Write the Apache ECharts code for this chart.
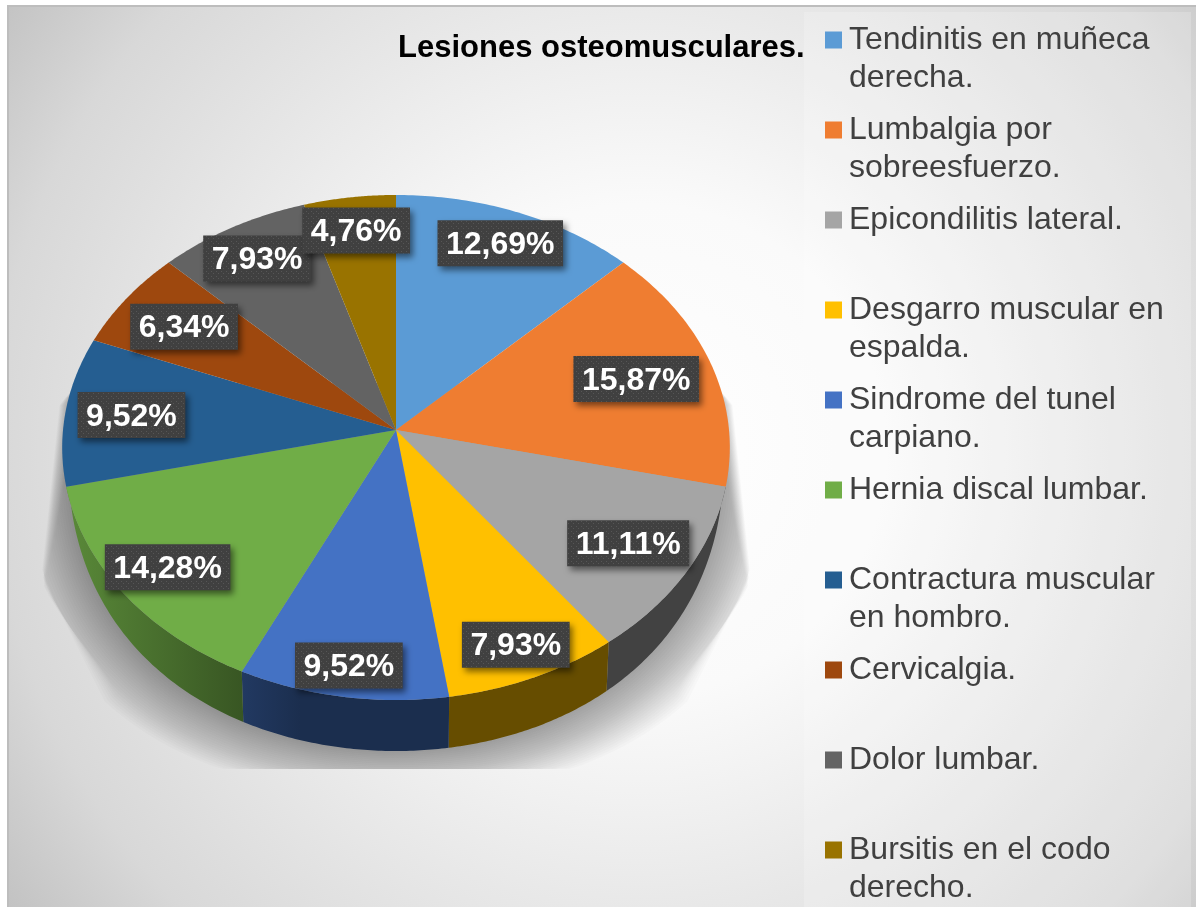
<!DOCTYPE html>
<html>
<head>
<meta charset="utf-8">
<style>html,body{margin:0;padding:0;background:#fff}#chart{width:1196px;height:907px}</style>
<script src="https://cdn.jsdelivr.net/npm/echarts@6/dist/echarts.min.js"></script>
</head>
<body>
<div id="chart"></div>
<script>
const categories = ['Tendinitis en muñeca\nderecha.','Lumbalgia por\nsobreesfuerzo.','Epicondilitis lateral.','Desgarro muscular en\nespalda.','Sindrome del tunel\ncarpiano.','Hernia discal lumbar.','Contractura muscular\nen hombro.','Cervicalgia.','Dolor lumbar.','Bursitis en el codo\nderecho.'];
const values = [12.69,15.87,11.11,7.93,9.52,14.28,9.52,6.34,7.93,4.76];
const colors = ['#5b9bd5','#ef7d31','#a5a5a5','#ffc000','#4472c4','#70ad47','#255e91','#9e480e','#636363','#997300'];
// distancia de cada etiqueta al centro, 1 = borde
const labelRadius = [.85,.76,.805,.875,.89,.845,.80,.78,.84,.85];

const total = values.reduce((a,b)=>a+b,0);
const cx = 396, cy = 430, rx = 333, ry = 251.3, persp = 0.0693, depth = 51, floorY = 769;

// circulo unidad -> pantalla con perspectiva
function project(angle,rho){
    const u = rho*Math.sin(angle), v = -rho*Math.cos(angle), d = 1-persp*v;
    return [cx+rx*u/d, cy+ry*v/d];
}
function sideDepth(angle){
    const t = (-Math.cos(angle)-0.22)/0.78;
    if(t<=0) return 0;
    return depth*Math.pow(Math.sin(Math.PI/2*Math.min(t,1)),0.5);
}
function bottomPoint(angle){
    const p = project(angle,1);
    return [cx+(p[0]-cx)*0.99, p[1]+sideDepth(angle)];
}
function startAngle(i){
    let sum = 0;
    for(let k=0;k<i;k++) sum += values[k];
    return sum/total*Math.PI*2;
}
function shade(hex,f){
    const n = parseInt(hex.slice(1),16);
    return 'rgb('+[n>>16,(n>>8)&255,n&255].map(c=>Math.round(c*f)).join(',')+')';
}

const dots = document.createElement('canvas');
dots.width = 5; dots.height = 5;
const dotCtx = dots.getContext('2d');
dotCtx.fillStyle = '#404040';
dotCtx.fillRect(0,0,5,5);
dotCtx.fillStyle = '#565656';
dotCtx.fillRect(1,1,1,1);
dotCtx.fillRect(3,3,1,1);
const measure = document.createElement('canvas').getContext('2d');
measure.font = 'bold 32px "Liberation Sans"';

function renderSlice(params,api){
    const i = params.seriesIndex-1;
    const a0 = startAngle(i), a1 = startAngle(i+1), steps = 60;
    const top = [], side = [];
    for(let s=0;s<=steps;s++){
        const a = a0+(a1-a0)*s/steps;
        top.push(project(a,1));
        if(sideDepth(a)>0) side.push(a);
    }
    const children = [];
    if(side.length>1){
        const pts = side.map(a=>project(a,1)).concat(side.slice().reverse().map(bottomPoint));
        children.push({type:'polygon',z2:1,shape:{points:pts},style:{
            fill:new echarts.graphic.LinearGradient(65,0,300,0,[
                {offset:0,color:shade(colors[i],0.8)},
                {offset:1,color:shade(colors[i],0.4)}
            ],true)
        }});
    }
    children.push({type:'polygon',z2:2,shape:{points:[[cx,cy]].concat(top)},style:{fill:colors[i]}});
    const text = String(values[i].toFixed(2)).replace('.',',')+'%';
    const c = project((a0+a1)/2,labelRadius[i]);
    const w = measure.measureText(text).width+17, h = 46;
    children.push({type:'rect',z2:100+2*i,shape:{x:c[0]-w/2,y:c[1]-h/2,width:w,height:h},style:{
        fill:{image:dots,repeat:'repeat'},shadowBlur:6,shadowOffsetX:3,shadowOffsetY:4,shadowColor:'rgba(0,0,0,0.5)'
    }});
    children.push({type:'text',z2:101+2*i,style:{
        x:c[0],y:c[1]+2,text:text,align:'center',verticalAlign:'middle',fill:'#fff',
        font:'bold 32px "Liberation Sans"'
    }});
    return {type:'group',children:children};
}

// sombra bajo la torta: capas suaves cortadas en floorY y por los lados
function renderShadow(){
    const children = [], layers = 24;
    for(let k=0;k<layers;k++){
        const e = 1-k/layers, pts = [];
        for(let s=0;s<=120;s++){
            const a = Math.PI*0.44+Math.PI*1.12*s/120;
            const p = bottomPoint(a);
            const v = -Math.cos(a);
            const grow = Math.max(0,Math.min(1,(v+0.17)/0.35));
            const y = Math.min(floorY,p[1]+42*e*Math.pow(Math.max(0,v),0.7));
            // cada capa se retira a distinta altura para que el borde inferior se difumine
            const half = 334+(Math.max(380,Math.min(y,600))-380)*0.105-(1-e)*14-Math.max(0,y-(570+70*(1-e)))*(1.3-0.8*e);
            const dx = (p[0]-cx)*(1+0.09*e*grow)+(p[0]<cx?-1:1)*30*e*grow;
            const limit = Math.max(half,Math.abs(p[0]-cx));
            pts.push([cx+Math.max(-limit,Math.min(limit,dx)),y]);
        }
        children.push({type:'polygon',shape:{points:pts},style:{fill:'rgba(0,0,0,0.014)'}});
    }
    return {type:'group',children:children};
}

const chart = echarts.init(document.getElementById('chart'));
chart.setOption({
    animation:false,
    backgroundColor:'#fff',
    graphic:{elements:[
        {type:'rect',z:-3,shape:{x:8,y:6,width:1200,height:920},style:{
            fill:new echarts.graphic.RadialGradient(640,450,820,[
                {offset:0,color:'#ffffff'},
                {offset:0.3,color:'#fafafa'},
                {offset:0.79,color:'#d8d8d8'},
                {offset:1,color:'#bcbcbc'}
            ],true),
            stroke:'#bdbdbd',lineWidth:2
        }},
        {type:'rect',z:-2,shape:{x:804,y:12,width:387,height:895},style:{fill:'rgba(255,255,255,0.2)'}}
    ]},
    title:{
        text:'Lesiones osteomusculares.',left:398,top:33,padding:0,
        textStyle:{color:'#000',fontFamily:'"Liberation Sans"',fontWeight:'bold',fontSize:31}
    },
    legend:{
        orient:'vertical',left:825,top:-17,height:1100,padding:0,
        data:categories,icon:'rect',itemWidth:17,itemHeight:17,itemGap:-24,
        selectedMode:false,
        // tres lineas para que el icono quede a la altura de la primera
        formatter:function(name){return ' \n'+(name.indexOf('\n')>=0?name:name+'\n ');},
        textStyle:{color:'#404040',fontFamily:'"Liberation Sans"',fontSize:32,lineHeight:38,padding:[0,0,0,2]}
    },
    series:[{type:'custom',coordinateSystem:'none',silent:true,renderItem:renderShadow,data:[[0]]}].concat(categories.map(function(name,i){
        return {
            type:'custom',name:name,coordinateSystem:'none',silent:true,
            itemStyle:{color:colors[i]},renderItem:renderSlice,data:[[values[i]]]
        };
    }))
});
</script>
</body>
</html>
